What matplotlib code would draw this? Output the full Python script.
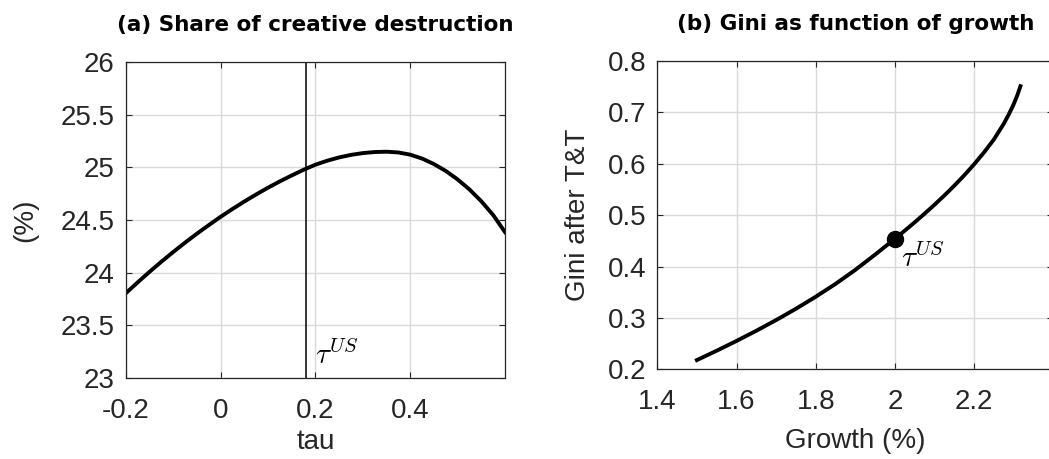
import matplotlib
matplotlib.use('Agg')
import matplotlib.pyplot as plt

plt.rcParams['font.family'] = ['Liberation Sans', 'DejaVu Sans']
plt.rcParams['mathtext.fontset'] = 'cm'

# panel (a): share of creative destruction (%) vs tau
tau = [-0.2, -0.175, -0.15, -0.125, -0.1, -0.075, -0.05, -0.025, 0.0,
       0.025, 0.05, 0.075, 0.1, 0.125, 0.15, 0.175, 0.2, 0.225, 0.25,
       0.275, 0.3, 0.325, 0.35, 0.375, 0.4, 0.425, 0.45, 0.475, 0.5,
       0.525, 0.55, 0.575, 0.6]
share = [23.806, 23.909, 24.009, 24.105, 24.197, 24.286, 24.371, 24.452, 24.531,
         24.605, 24.676, 24.743, 24.807, 24.867, 24.923, 24.977, 25.025, 25.063, 25.094,
         25.118, 25.135, 25.145, 25.148, 25.141, 25.120, 25.083, 25.031, 24.965, 24.885,
         24.790, 24.678, 24.547, 24.385]
tau_us = 0.18

# panel (b): Gini after taxes and transfers vs growth (%)
growth = [1.5, 1.55, 1.6, 1.65, 1.7, 1.75, 1.8, 1.85, 1.9, 1.95, 2.0,
          2.025, 2.05, 2.075, 2.1, 2.125, 2.15, 2.175, 2.2, 2.225, 2.25,
          2.275, 2.2875, 2.3, 2.309, 2.317]
gini = [0.218, 0.2362, 0.2552, 0.2750, 0.2958, 0.3178, 0.3412, 0.3662, 0.3935, 0.4232, 0.454,
        0.4699, 0.4861, 0.5029, 0.5203, 0.5384, 0.5574, 0.5775, 0.599, 0.6221, 0.6474,
        0.678, 0.696, 0.716, 0.733, 0.751]
growth_us, gini_us = 2.0, 0.454

tick_col = '#262626'
label_fs = 20


def style_axes(ax):
    ax.grid(True, color='#d9d9d9', linewidth=1.0)
    ax.set_axisbelow(True)
    ax.tick_params(direction='in', top=True, right=True, labelsize=label_fs,
                   colors=tick_col, length=4, width=0.8)
    ax.tick_params(axis='x', pad=14.5)
    ax.tick_params(axis='y', pad=8)
    for s in ax.spines.values():
        s.set_color(tick_col)
        s.set_linewidth(0.9)


fig = plt.figure(figsize=(10.49, 4.59), dpi=100)

ax1 = fig.add_axes([0.1201, 0.1765, 0.3613, 0.6885])
style_axes(ax1)
ax1.plot(tau, share, color='black', linewidth=2.8, solid_joinstyle='round')
ax1.axvline(tau_us, color='black', linewidth=1.1)
ax1.text(tau_us + 0.018, 23.22, r'$\tau^{US}$', fontsize=21, ha='left', va='center')
ax1.set_xlim(-0.2, 0.6)
ax1.set_ylim(23, 26)
ax1.set_xticks([-0.2, 0, 0.2, 0.4])
ax1.set_xticklabels(['-0.2', '0', '0.2', '0.4'])
ax1.set_yticks([23, 23.5, 24, 24.5, 25, 25.5, 26])
ax1.set_yticklabels(['23', '23.5', '24', '24.5', '25', '25.5', '26'])
ax1.set_xlabel('tau', fontsize=label_fs, color=tick_col, labelpad=3.5)
ax1.set_ylabel('(%)', fontsize=label_fs, color=tick_col, labelpad=16)
ax1.set_title('(a) Share of creative destruction', fontsize=15.5,
              fontweight='bold', family='DejaVu Sans', pad=22)

ax2 = fig.add_axes([0.6266, 0.1954, 0.3775, 0.6717])
style_axes(ax2)
ax2.plot(growth, gini, color='black', linewidth=2.8, solid_joinstyle='round')
ax2.plot([growth_us], [gini_us], 'o', color='black', markersize=11.5)
ax2.text(growth_us + 0.0145, 0.416, r'$\tau^{US}$', fontsize=21, ha='left', va='center')
ax2.set_xlim(1.4, 2.4)
ax2.set_ylim(0.2, 0.8)
ax2.set_xticks([1.4, 1.6, 1.8, 2.0, 2.2])
ax2.set_xticklabels(['1.4', '1.6', '1.8', '2', '2.2'])
ax2.set_yticks([0.2, 0.3, 0.4, 0.5, 0.6, 0.7, 0.8])
ax2.set_xlabel('Growth (%)', fontsize=label_fs, color=tick_col, labelpad=9)
ax2.set_ylabel('Gini after T&T', fontsize=label_fs, color=tick_col, labelpad=12)
ax2.set_title('(b) Gini as function of growth', fontsize=15.5,
              fontweight='bold', family='DejaVu Sans', pad=22)

fig.savefig('out.png', dpi=100)
